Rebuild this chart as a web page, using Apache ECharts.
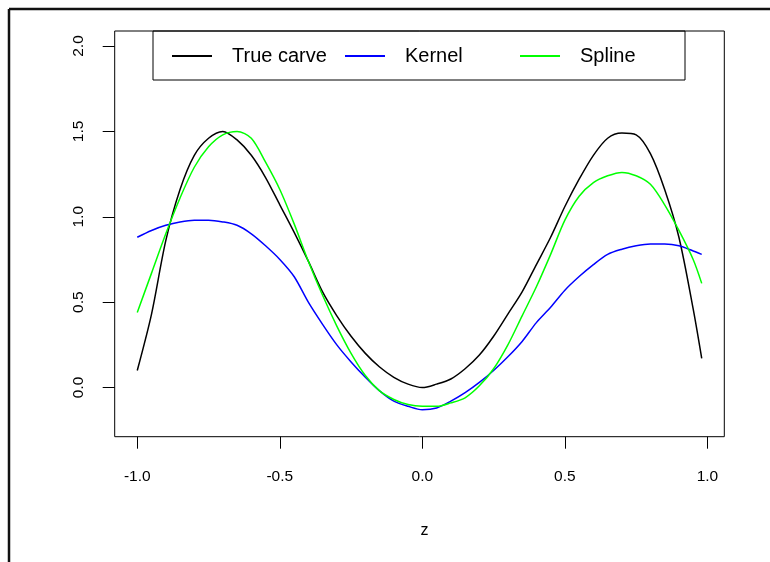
<!DOCTYPE html>
<html>
<head>
<meta charset="utf-8">
<script src="https://cdn.jsdelivr.net/npm/echarts@6/dist/echarts.min.js"></script>
<style>html,body{margin:0;padding:0;background:#fff}#c{width:770px;height:562px}</style>
</head>
<body>
<div id="c"></div>
<script>
const zValues = [-1.00,-0.95,-0.90,-0.85,-0.80,-0.75,-0.70,-0.65,-0.60,-0.55,-0.50,-0.45,-0.40,-0.35,-0.30,-0.25,-0.20,-0.15,-0.10,-0.05,0.00,0.05,0.10,0.15,0.20,0.25,0.30,0.35,0.40,0.45,0.50,0.55,0.60,0.65,0.70,0.75,0.80,0.85,0.90,0.95,0.98];
const trueCurve = [0.10,0.43,0.86,1.16,1.36,1.46,1.50,1.45,1.36,1.23,1.07,0.91,0.74,0.56,0.42,0.30,0.20,0.12,0.06,0.02,0.00,0.02,0.05,0.11,0.19,0.30,0.43,0.56,0.72,0.88,1.06,1.22,1.36,1.46,1.49,1.48,1.37,1.16,0.88,0.46,0.17];
const kernelCurve = [0.88,0.92,0.95,0.97,0.98,0.98,0.97,0.95,0.90,0.83,0.75,0.65,0.50,0.37,0.25,0.15,0.06,-0.02,-0.08,-0.11,-0.13,-0.12,-0.08,-0.03,0.03,0.10,0.18,0.27,0.38,0.47,0.57,0.65,0.72,0.78,0.81,0.83,0.84,0.84,0.83,0.80,0.78];
const splineCurve = [0.44,0.67,0.90,1.11,1.29,1.41,1.48,1.50,1.46,1.32,1.16,0.96,0.74,0.54,0.36,0.20,0.07,-0.02,-0.07,-0.10,-0.11,-0.11,-0.09,-0.06,0.01,0.11,0.25,0.42,0.59,0.78,0.98,1.12,1.20,1.24,1.26,1.24,1.19,1.07,0.92,0.75,0.61];
const xTicks = [-1.0,-0.5,0.0,0.5,1.0];
const yTicks = [0.0,0.5,1.0,1.5,2.0];
const seriesNames = ['True carve','Kernel','Spline'];
const seriesColors = ['#000000','#0000ff','#00ff00'];

const pair = arr => zValues.map((z,i)=>[z,arr[i]]);
const font = 'Liberation Sans, Arial, sans-serif';
const chart = echarts.init(document.getElementById('c'), null, {renderer:'canvas'});
const legendLefts = [172, 345, 520];
chart.setOption({
  animation:false,
  backgroundColor:'#fff',
  grid:{left:114.7, right:45.7, top:31, bottom:125.3, show:true, borderColor:'#000', borderWidth:1, backgroundColor:'transparent'},
  xAxis:{type:'value', min:-1.0792, max:1.0592,
    name:'z', nameLocation:'middle', nameGap:86, nameTextStyle:{fontFamily:font, fontSize:16, color:'#000', padding:[0,0,0,10]},
    axisLine:{show:false, onZero:false}, splitLine:{show:false},
    axisTick:{show:true, length:12, customValues:xTicks, lineStyle:{color:'#000'}},
    axisLabel:{customValues:xTicks, margin:32, fontFamily:font, fontSize:15.5, color:'#000', formatter:v=>v.toFixed(1)}},
  yAxis:{type:'value', min:-0.288, max:2.088,
    axisLine:{show:false, onZero:false}, splitLine:{show:false},
    axisTick:{show:true, length:12, customValues:yTicks, lineStyle:{color:'#000'}},
    axisLabel:{customValues:yTicks, rotate:90, margin:28, fontFamily:font, fontSize:15.5, color:'#000', formatter:v=>v.toFixed(1)}},
  legend: seriesNames.map((n,i)=>({
    data:[n], left:legendLefts[i], top:46, padding:0, itemWidth:40, itemHeight:2, icon:'rect',
    textStyle:{fontFamily:font, fontSize:20, color:'#000', padding:[0,0,0,15]}, selectedMode:false
  })),
  graphic:[
    {type:'rect', shape:{x:153, y:31, width:532, height:49}, style:{fill:'#fff', stroke:'#000', lineWidth:1}, z:-1},
    {type:'line', shape:{x1:9, y1:9, x2:770, y2:9}, style:{stroke:'#111', lineWidth:2.5}},
    {type:'line', shape:{x1:9, y1:9, x2:9, y2:562}, style:{stroke:'#111', lineWidth:2.5}}
  ],
  series:[trueCurve,kernelCurve,splineCurve].map((d,i)=>({
    name:seriesNames[i], type:'line', data:pair(d), showSymbol:false, smooth:0.3,
    lineStyle:{color:seriesColors[i], width:1.5}, itemStyle:{color:seriesColors[i]}
  }))
});
</script>
</body>
</html>
